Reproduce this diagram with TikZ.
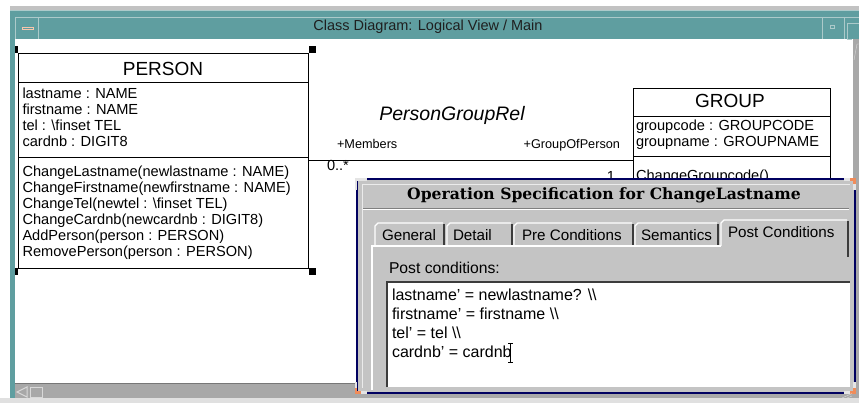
\documentclass[tikz,border=0pt]{standalone}
\usepackage{fontspec}
\setmainfont{Liberation Sans}
\newfontfamily\dlgfont{DejaVu Serif}
\definecolor{frameteal}{RGB}{95,158,160}
\definecolor{tealline}{RGB}{172,202,202}
\definecolor{dlggray}{RGB}{196,196,196}
\definecolor{sbgray}{RGB}{168,168,168}
\definecolor{dlgnavy}{RGB}{0,0,96}
\definecolor{edgedark}{RGB}{60,60,60}
\definecolor{cornerorange}{RGB}{240,140,90}
\definecolor{cornerlight}{RGB}{228,228,228}
\begin{document}
\begin{tikzpicture}[x=1pt,y=-1pt,
  every node/.style={inner sep=0pt, outer sep=0pt},
  ln/.style={anchor=base west, font=\fontsize{14.6}{16}\selectfont},
  hdr/.style={anchor=base, font=\fontsize{19}{21}\selectfont},
  small/.style={font=\fontsize{12.7}{14}\selectfont},
  cls/.style={draw=black, line width=0.8pt, fill=white, anchor=north west},
  assoc/.style={draw=black, line width=0.8pt},
  handle/.style={fill=black},
  tabtxt/.style={anchor=base west, font=\fontsize{15.2}{17}\selectfont},
  area/.style={anchor=base west, font=\fontsize{16}{19}\selectfont},
  litedge/.style={draw=white, line width=1.2pt},
  darkedge/.style={draw=edgedark, line width=1.2pt},
  corner/.style={draw=cornerlight, line width=2.5pt},
  cornertip/.style={draw=cornerorange, line width=2.5pt}]
\useasboundingbox (0,0) rectangle (859,403);
\fill[white] (0,0) rectangle (859,403);
% window frame
\fill[sbgray!70] (10,6) rectangle (859,10);
\fill[frameteal] (10,10) rectangle (859,398);
\fill[white] (15,39) rectangle (852,383);
\draw[tealline, line width=1pt] (10,11) -- (859,11);
\draw[tealline] (15,17.5) -- (859,17.5);
\draw[tealline] (15,17.5) -- (15,39);
\draw[tealline] (38,17.5) -- (38,39);
\draw[cornerorange!50!white] (22,27) rectangle (33,29.5);
\draw[tealline] (822,17.5) -- (822,39);
\draw[tealline] (844,17.5) -- (844,39);
\draw[tealline] (830,25) rectangle (834,28.5);
\draw[tealline] (847,23) rectangle (859,39);
\node[anchor=base, font=\fontsize{14.5}{17}\selectfont, text=black!88] (title) at (428,30.5) {Class Diagram: Logical View / Main};
% scrollbars
\fill[sbgray] (853,39) rectangle (859,383);
\draw[white] (852.5,39) -- (852.5,383);
\draw[white!85!black] (854,60) -- (857,44) -- (859,44);
\fill[sbgray] (15,383) rectangle (859,398);
\draw[edgedark!70] (15,383.5) -- (853,383.5);
\draw[white!85!black, line width=1pt] (27,387) -- (17,392) -- (27,397) -- cycle;
\draw[white!85!black, line width=1pt] (30,387) rectangle (42,397);
\fill[black!12] (0,398) rectangle (859,403);
\fill[frameteal] (10,383) rectangle (15,398);

% PERSON class
\node[cls, minimum width=290, minimum height=215] (person) at (18,53) {};
\draw[black, line width=0.8pt] (person.north west) ++(0,29) -- ++(290,0);
\draw[black, line width=0.8pt] (person.north west) ++(0,104) -- ++(290,0);
\node[hdr] (pname) at (163,75.5) {PERSON};
\node[ln] (pa1) at (22.5,99) {lastname : NAME};
\node[ln] (pa2) at (22.5,115) {firstname : NAME};
\node[ln] (pa3) at (22.5,131) {tel : \textbackslash finset TEL};
\node[ln] (pa4) at (22.5,147) {cardnb : DIGIT8};
\node[ln] (po1) at (22.5,177) {ChangeLastname(newlastname : NAME)};
\node[ln] (po2) at (22.5,193) {ChangeFirstname(newfirstname : NAME)};
\node[ln] (po3) at (22.5,209) {ChangeTel(newtel : \textbackslash finset TEL)};
\node[ln] (po4) at (22.5,225) {ChangeCardnb(newcardnb : DIGIT8)};
\node[ln] (po5) at (22.5,241) {AddPerson(person : PERSON)};
\node[ln] (po6) at (22.5,257) {RemovePerson(person : PERSON)};
\fill[handle] (15,46) rectangle (17.5,53);
\fill[handle] (309,46) rectangle (316,53);
\fill[handle] (15,268) rectangle (17.5,275);
\fill[handle] (309,268) rectangle (316,275);

% GROUP class
\node[cls, minimum width=197, minimum height=200] (group) at (633,88) {};
\draw[black, line width=0.8pt] (group.north west) ++(0,28) -- ++(197,0);
\draw[black, line width=0.8pt] (group.north west) ++(0,68) -- ++(197,0);
\node[hdr] (gname) at (730,107.5) {GROUP};
\node[ln] (ga1) at (636,130.5) {groupcode : GROUPCODE};
\node[ln] (ga2) at (636,146.5) {groupname : GROUPNAME};
\node[ln] (go1) at (636,181) {ChangeGroupcode()};

% association
\draw[assoc] (person.east) -- (person.east -| group.west);
\node[anchor=base, font=\itshape\fontsize{19.5}{22}\selectfont] (relname) at (452,121) {PersonGroupRel};
\node[small, anchor=base west] (role1) at (337,149) {+Members};
\node[small, anchor=base east] (role2) at (620,149) {+GroupOfPerson};
\node[ln] (mult1) at (327,171) {0..*};
\node[ln, anchor=base east] (mult2) at (615,182) {1};

% dialog
\node[draw=dlgnavy, line width=1.5pt, fill=dlggray, minimum width=498, minimum height=214, anchor=north west] (dlg) at (357,179) {};
\draw[white!92!black] (362,388) -- (362,184) -- (850,184);
\node[anchor=base, font=\dlgfont\bfseries\fontsize{15.6}{18}\selectfont] (dlgtitle) at (604,200) {Operation Specification for ChangeLastname};
\draw[black!50] (363,208) -- (849,208);
\draw[white] (363,209.5) -- (849,209.5);
% tabs
\draw[litedge] (375,246) -- (375,226) -- (378,223) -- (443,223);
\draw[darkedge] (444,224) -- (444,246);
\draw[litedge] (447,246) -- (447,226) -- (450,223) -- (511,223);
\draw[darkedge] (512,224) -- (512,246);
\draw[litedge] (514,246) -- (514,226) -- (517,223) -- (632,223);
\draw[darkedge] (633,224) -- (633,246);
\draw[litedge] (635,246) -- (635,226) -- (638,223) -- (717,223);
\draw[darkedge] (718,224) -- (718,246);
\draw[litedge] (721,246) -- (721,223) -- (724,220) -- (847,220);
\draw[darkedge] (848,221) -- (848,257);
\draw[litedge] (372,390) -- (372,246) -- (721,246);
\node[tabtxt] (t1) at (382,241) {General};
\node[tabtxt] (t2) at (453,241) {Detail};
\node[tabtxt] (t3) at (522,241) {Pre Conditions};
\node[tabtxt] (t4) at (641,241) {Semantics};
\node[tabtxt] (t5) at (728,238) {Post Conditions};
\node[tabtxt, font=\fontsize{15.7}{18}\selectfont] (plabel) at (389,273) {Post conditions:};
% text area
\node[fill=white, minimum width=463, minimum height=105, anchor=north west] (area) at (387,282) {};
\draw[edgedark, line width=2pt] (area.south west) -- (area.north west) -- (area.north east);
\node[area] (l1) at (392,300) {lastname’ = newlastname? \textbackslash\textbackslash};
\node[area] (l2) at (392,319) {firstname’ = firstname \textbackslash\textbackslash};
\node[area] (l3) at (392,338) {tel’ = tel \textbackslash\textbackslash};
\node[area] (l4) at (392,357) {cardnb’ = cardnb};
\draw[black, line width=1pt] (508,343) -- (513,343) (510.5,343) -- (510.5,362) (508,362) -- (513,362);
% dialog corners
\draw[corner] (356,190) -- (356,179.5) -- (367,179.5);
\draw[corner] (844,179.5) -- (854.5,179.5) -- (854.5,190);
\draw[cornertip] (850,179.5) -- (854.5,179.5) -- (854.5,184);
\draw[corner] (356,382) -- (356,392.5) -- (367,392.5);
\draw[cornertip] (356,388) -- (356,392.5) -- (361,392.5);
\draw[corner] (844,392.5) -- (854.5,392.5) -- (854.5,382);
\draw[cornertip] (850,392.5) -- (854.5,392.5) -- (854.5,388);
\draw[white!85!black] (842,398) -- (852,393.5);
\draw[white!85!black] (847,398) -- (852,396);
\end{tikzpicture}
\end{document}
